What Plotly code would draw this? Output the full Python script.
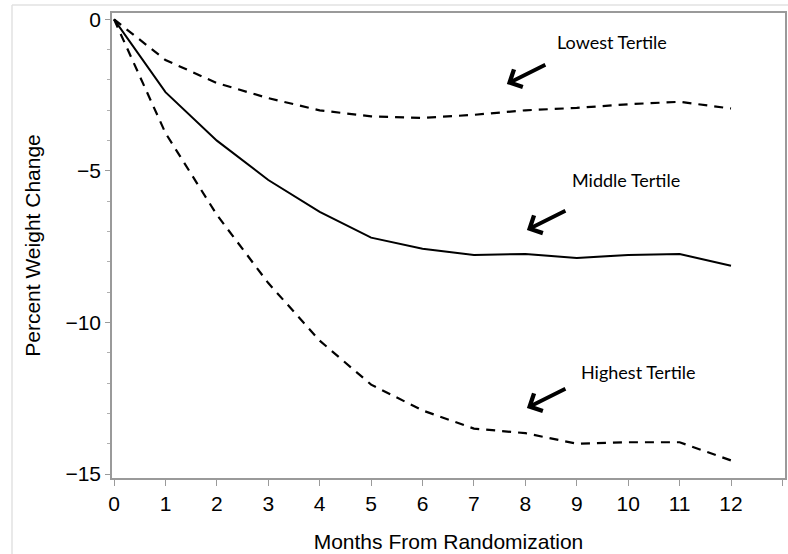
import plotly.graph_objects as go

months = list(range(13))
lowest = [0, -1.34, -2.1, -2.6, -3.0, -3.2, -3.25, -3.15, -3.0, -2.92, -2.8, -2.72, -2.94]
middle = [0, -2.4, -4.0, -5.3, -6.35, -7.2, -7.57, -7.77, -7.74, -7.87, -7.77, -7.74, -8.13]
highest = [0, -3.75, -6.45, -8.7, -10.6, -12.05, -12.9, -13.5, -13.65, -14.0, -13.95, -13.95, -14.55]

x_tickvals = list(range(14))
x_ticktext = [str(m) for m in range(13)] + [""]
y_tickvals = [0, -5, -10, -15]

labels = ["Lowest Tertile", "Middle Tertile", "Highest Tertile"]

fig = go.Figure()
fig.add_trace(go.Scatter(x=months, y=lowest, mode="lines",
                         line=dict(color="black", width=2.2, dash="9px,7px")))
fig.add_trace(go.Scatter(x=months, y=middle, mode="lines",
                         line=dict(color="black", width=2)))
fig.add_trace(go.Scatter(x=months, y=highest, mode="lines",
                         line=dict(color="black", width=2.2, dash="9px,7px")))

ann_font = dict(family="Lato, Open Sans, sans-serif", size=18, color="black")
text_pos = [(9.68, -0.74), (9.95, -5.30), (10.19, -11.63)]
arrow_pos = [(7.64, -2.13), (8.03, -6.95), (8.03, -12.82)]
annotations = []
for lab, (tx, ty), (hx, hy) in zip(labels, text_pos, arrow_pos):
    annotations.append(dict(x=tx, y=ty, xref="x", yref="y", text=lab,
                            showarrow=False, font=ann_font))
    annotations.append(dict(x=hx, y=hy, xref="x", yref="y", text="",
                            showarrow=True, ax=40, ay=-20, axref="pixel", ayref="pixel",
                            arrowhead=4, arrowsize=1, arrowwidth=3.8, arrowcolor="black"))

axis_font = dict(family="Liberation Sans, Arial, sans-serif", size=21, color="black")

fig.update_layout(
    width=788, height=554,
    margin=dict(l=112, r=3, t=13, b=76, autoexpand=False),
    paper_bgcolor="white", plot_bgcolor="white",
    showlegend=False,
    annotations=annotations,
    xaxis=dict(range=[-0.04, 13.05], tickvals=x_tickvals, ticktext=x_ticktext,
               showgrid=False, zeroline=False, showline=True, linecolor="#9a9a9a",
               linewidth=1.5, mirror=True, ticks="outside", ticklen=6,
               tickcolor="#9a9a9a", tickfont=axis_font, automargin=False,
               title=dict(text="Months From Randomization", font=axis_font, standoff=20)),
    yaxis=dict(range=[-15.13, 0.21], tickvals=y_tickvals,
               showgrid=False, zeroline=False, showline=True, linecolor="#9a9a9a",
               linewidth=1.5, mirror=True, ticks="outside", ticklen=5,
               tickcolor="#9a9a9a", tickfont=axis_font, automargin=False,
               minor=dict(dtick=1, ticks="outside", ticklen=3, tickcolor="#b0b0b0", showgrid=False),
               title=dict(text="Percent Weight Change", font=axis_font, standoff=19)),
    shapes=[
        dict(type="line", xref="paper", yref="paper", x0=-0.1486, x1=1.1, y0=1.0172, y1=1.0172,
             line=dict(color="#e2e2e2", width=1.5)),
        dict(type="line", xref="paper", yref="paper", x0=-0.1486, x1=-0.1486, y0=1.0172, y1=-0.3,
             line=dict(color="#e2e2e2", width=1.5)),
    ],
)

fig.write_html("out.html", config={"displayModeBar": False},
               post_script="document.body.style.margin='0';document.body.style.overflow='hidden';")
